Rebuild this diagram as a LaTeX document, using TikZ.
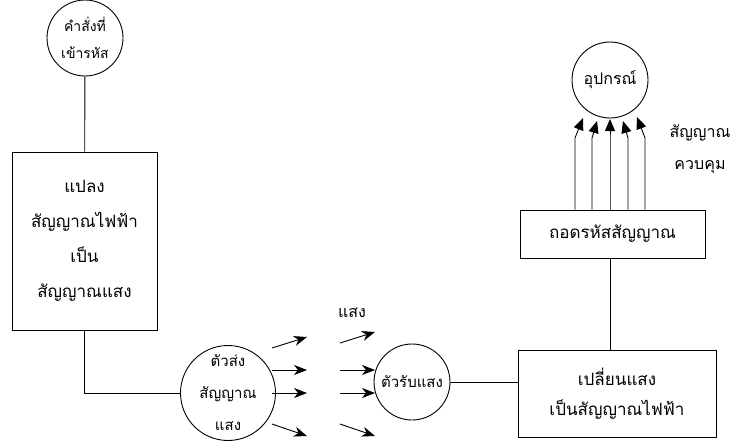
\documentclass[tikz,border=0pt]{standalone}
\usepackage{fontspec}
\newfontfamily\thai[Script=Thai]{Loma}
\usetikzlibrary{arrows.meta,calc}
\begin{document}
\begin{tikzpicture}[x=1pt,y=-1pt,line width=0.9pt,
  every node/.style={font=\thai},
  circ/.style={draw,circle,minimum size=76pt,inner sep=0pt,align=center},
  boxn/.style={draw,rectangle,inner sep=0pt,align=center},
  lt/.style={-{Stealth[length=13pt,width=10pt,inset=4pt]},line width=0.9pt},
  ctl/.style={-{Triangle[length=12pt,width=10pt]},line width=0.9pt}]
\useasboundingbox (0,0) rectangle (734,442);
% top-left circle
\node[circ,font=\thai\fontsize{14}{27}\selectfont] (c1) at (85,38) {คำสั่งที่\\เข้ารหัส};
% left box
\node[boxn,minimum width=145pt,minimum height=178pt,font=\thai\fontsize{17}{35}\selectfont] (b1) at (84.5,241) {แปลง\\สัญญาณไฟฟ้า\\เป็น\\สัญญาณแสง};
% sender circle
\node[circ,font=\thai\fontsize{15}{32}\selectfont] (c2) at (228,393) {ตัวส่ง\\สัญญาณ\\แสง};
% receiver circle
\node[circ,font=\thai\fontsize{15}{16}\selectfont] (c3) at (412,382) {ตัวรับแสง};
% convert box
\node[boxn,minimum width=198pt,minimum height=87pt,font=\thai\fontsize{17}{30}\selectfont] (b2) at (617,393.5) {เปลี่ยนแสง\\เป็นสัญญาณไฟฟ้า};
% decode box
\node[boxn,minimum width=185pt,minimum height=48pt,font=\thai\fontsize{17}{20}\selectfont] (b3) at (612.5,234) {ถอดรหัสสัญญาณ};
% device circle
\node[circ,font=\thai\fontsize{16}{16}\selectfont] (c4) at (610,80) {อุปกรณ์};
% labels
\node[font=\thai\fontsize{16}{18}\selectfont] (lt1) at (352,313) {แสง};
\node[font=\thai\fontsize{16}{32}\selectfont,align=center] (lt2) at (700,149) {สัญญาณ\\ควบคุม};
% connectors
\draw (c1) -- (b1);
\draw (b1.south) |- (c2.west);
\draw (c3.east) -- (c3.east -| b2.west);
\draw (b3.south -| 610,0) -- (b2.north -| 610,0);
% light arrows
\coordinate (a1s) at (272,348); \coordinate (a1e) at (307,337);
\coordinate (a2s) at (272,370); \coordinate (a2e) at (307,370);
\coordinate (a3s) at (272,393); \coordinate (a3e) at (307,393);
\coordinate (a4s) at (272,424); \coordinate (a4e) at (307,436);
\coordinate (b1s) at (340,343); \coordinate (b1e) at (375,332);
\coordinate (b2s) at (340,370); \coordinate (b2e) at (375,370);
\coordinate (b3s) at (340,393); \coordinate (b3e) at (375,393);
\coordinate (b4s) at (340,424); \coordinate (b4e) at (375,436);
\foreach \p in {a1,a2,a3,a4,b1,b2,b3,b4}{\draw[lt] (\p s) -- (\p e);}
% control arrows
\foreach \x/\tx/\ty in {575/583/118,592/597/121,610/610/119,628/623/121,645/637/117}{
  \draw[ctl] (\x,0 |- b3.north) -- (\x,138) -- (\tx,\ty);
}
\end{tikzpicture}
\end{document}
